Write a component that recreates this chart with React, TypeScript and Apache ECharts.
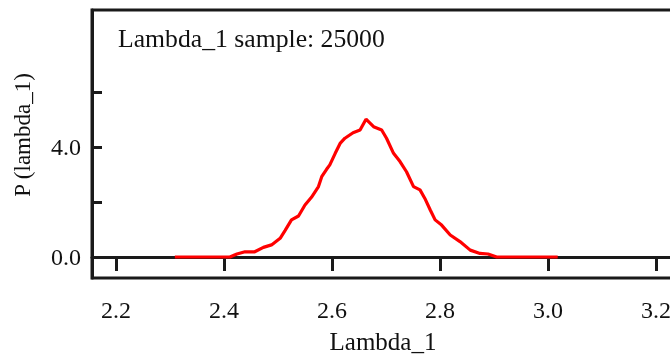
import React, { useEffect, useRef } from "react";
import * as echarts from "echarts";

const lambdaValues = [
  2.309, 2.411, 2.424, 2.439, 2.457, 2.473, 2.488, 2.504, 2.513, 2.525,
  2.538, 2.55, 2.562, 2.575, 2.581, 2.59, 2.596, 2.606, 2.615, 2.624,
  2.639, 2.652, 2.663, 2.677, 2.692, 2.701, 2.714, 2.726, 2.738, 2.751,
  2.763, 2.772, 2.782, 2.791, 2.803, 2.819, 2.837, 2.856, 2.874, 2.889,
  2.905, 3.018,
];
const densityValues = [
  0, 0, 0.11, 0.19, 0.19, 0.35, 0.44, 0.68, 0.96, 1.35,
  1.49, 1.89, 2.17, 2.56, 2.92, 3.19, 3.35, 3.77, 4.13, 4.32,
  4.52, 4.62, 5.01, 4.74, 4.62, 4.32, 3.77, 3.47, 3.1, 2.56,
  2.44, 2.13, 1.71, 1.35, 1.16, 0.8, 0.56, 0.25, 0.13, 0.11,
  0, 0,
];
const xTickValues = [2.2, 2.4, 2.6, 2.8, 3.0, 3.2];
const yTickValues = [0, 2, 4, 6];
const yLabelValues = [0, 4];
const annotationText = "Lambda_1 sample: 25000";
const xTitle = "Lambda_1";
const yTitle = "P (lambda_1)";

const FONT = '"Liberation Serif", "Times New Roman", serif';
const AXIS_COLOR = "#1a1a1a";

export default function App() {
  const ref = useRef<HTMLDivElement>(null);
  useEffect(() => {
    const chart = echarts.init(ref.current!, null, { renderer: "svg" });
    chart.setOption({
      animation: false,
      grid: {
        left: 92,
        top: 10,
        right: 20,
        bottom: 77,
        show: true,
        borderColor: AXIS_COLOR,
        borderWidth: 3,
        backgroundColor: "transparent",
      },
      xAxis: {
        type: "value",
        min: 2.1556,
        max: 3.2815,
        splitLine: { show: false },
        axisLine: { show: true, lineStyle: { color: AXIS_COLOR, width: 3 } },
        axisTick: {
          show: true,
          inside: false,
          length: 14,
          customValues: xTickValues,
          lineStyle: { color: AXIS_COLOR, width: 3 },
        },
        axisLabel: {
          customValues: xTickValues,
          margin: 20,
          fontFamily: FONT,
          fontSize: 24,
          color: "#111",
          formatter: (v: number) => v.toFixed(1),
        },
      },
      yAxis: {
        type: "value",
        min: -0.7636,
        max: 8.982,
        splitLine: { show: false },
        axisLine: { show: true, lineStyle: { color: AXIS_COLOR, width: 3 } },
        axisTick: {
          show: true,
          inside: true,
          length: 10,
          customValues: yTickValues,
          lineStyle: { color: AXIS_COLOR, width: 3 },
        },
        axisLabel: {
          customValues: yLabelValues,
          margin: 11,
          fontFamily: FONT,
          fontSize: 24,
          color: "#111",
          formatter: (v: number) => v.toFixed(1),
        },
      },
      graphic: [
        {
          type: "text",
          x: 118,
          y: 38.6,
          style: {
            text: annotationText,
            font: `25.7px ${FONT}`,
            fill: "#111",
            textAlign: "left",
            textVerticalAlign: "middle",
          },
        },
        {
          type: "text",
          x: 383,
          y: 341.6,
          style: {
            text: xTitle,
            font: `25px ${FONT}`,
            fill: "#111",
            textAlign: "center",
            textVerticalAlign: "middle",
          },
        },
        {
          type: "text",
          x: 22,
          y: 135,
          rotation: Math.PI / 2,
          style: {
            text: yTitle,
            font: `23px ${FONT}`,
            fill: "#111",
            textAlign: "center",
            textVerticalAlign: "middle",
          },
        },
      ],
      series: [
        {
          type: "line",
          data: lambdaValues.map((x, i) => [x, densityValues[i]]),
          showSymbol: false,
          smooth: false,
          lineStyle: { color: "#ff0000", width: 3.2 },
          itemStyle: { color: "#ff0000" },
        },
      ],
    });
    return () => chart.dispose();
  }, []);
  return (
    <div
      style={{
        position: "fixed",
        left: 0,
        top: 0,
        width: 670,
        height: 355,
        overflow: "hidden",
      }}
    >
      <div ref={ref} style={{ width: 720, height: 355 }} />
    </div>
  );
}
